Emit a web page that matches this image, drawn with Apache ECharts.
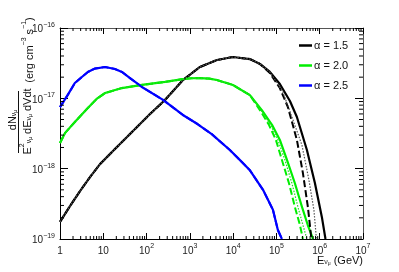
<!DOCTYPE html>
<html>
<head>
<meta charset="utf-8">
<script src="https://cdn.jsdelivr.net/npm/echarts@6/dist/echarts.min.js"></script>
<style>html,body{margin:0;padding:0;background:#fff}#c{width:399px;height:272px}</style>
</head>
<body>
<div id="c"></div>
<script>
// ---- data (E in GeV, flux in erg cm^-3 s^-1) ----
const seriesNames = ['α = 1.5', 'α = 2.0', 'α = 2.5'];
const colors = ['#000000', '#00ee00', '#0000ff'];

// alpha = 1.5 (black)
const a15E      = [1, 1.70, 2.90, 4.93, 8.39, 18.6, 41.4, 120, 266, 693, 1710, 4230, 9890, 24400, 41600, 70700, 120000, 205000, 297000, 506000, 774000, 1120000, 1360000];
const a15Solid  = [1.75e-19, 2.94e-19, 4.81e-19, 7.60e-19, 1.16e-18, 1.90e-18, 3.11e-18, 5.98e-18, 9.46e-18, 1.82e-17, 2.79e-17, 3.51e-17, 3.87e-17, 3.62e-17, 3.08e-17, 2.37e-17, 1.60e-17, 9.16e-18, 5.43e-18, 1.84e-18, 6.25e-19, 2.06e-19, 1.0e-19];
const a15DashE  = [1, 1.70, 2.90, 4.93, 8.39, 18.6, 41.4, 120, 266, 693, 1710, 4230, 9890, 24400, 41600, 70700, 120000, 184000, 297000, 409000, 533000, 643000];
const a15Dash   = [1.75e-19, 2.94e-19, 4.81e-19, 7.60e-19, 1.16e-18, 1.90e-18, 3.11e-18, 5.98e-18, 9.46e-18, 1.82e-17, 2.79e-17, 3.51e-17, 3.87e-17, 3.62e-17, 3.08e-17, 2.29e-17, 1.40e-17, 7.53e-18, 2.56e-18, 8.67e-19, 2.85e-19, 1.0e-19];
const a15DotE   = [1, 1.70, 2.90, 4.93, 8.39, 18.6, 41.4, 120, 266, 693, 1710, 4230, 9890, 24400, 41600, 70700, 141000, 228000, 388000, 563000, 735000, 839000];
const a15Dot    = [1.75e-19, 2.94e-19, 4.81e-19, 7.60e-19, 1.16e-18, 1.90e-18, 3.11e-18, 5.98e-18, 9.46e-18, 1.82e-17, 2.79e-17, 3.51e-17, 3.87e-17, 3.62e-17, 3.08e-17, 2.37e-17, 1.23e-17, 5.43e-18, 2.17e-18, 6.9e-19, 2.58e-19, 1.0e-19];

// alpha = 2.0 (green)
const a20E      = [1, 1.3, 2.2, 4.4, 7, 11, 27, 78, 266, 690, 1100, 1700, 2800, 4200, 9900, 24400, 46000, 79000, 120000, 175000, 267000, 390000, 530000, 700000];
const a20Solid  = [2.32e-18, 3.2e-18, 4.6e-18, 7.3e-18, 9.8e-18, 1.19e-17, 1.40e-17, 1.55e-17, 1.71e-17, 1.88e-17, 1.93e-17, 1.94e-17, 1.91e-17, 1.82e-17, 1.55e-17, 1.11e-17, 6.8e-18, 4.2e-18, 2.56e-18, 1.33e-18, 6.2e-19, 2.85e-19, 1.58e-19, 1.0e-19];
const a20DashE  = [1, 1.3, 2.2, 4.4, 7, 11, 27, 78, 266, 690, 1100, 1700, 2800, 4200, 9900, 24400, 41600, 67100, 97300, 134000, 195000, 267000, 349000, 409000];
const a20Dash   = [2.32e-18, 3.2e-18, 4.6e-18, 7.3e-18, 9.8e-18, 1.19e-17, 1.40e-17, 1.55e-17, 1.71e-17, 1.88e-17, 1.93e-17, 1.94e-17, 1.91e-17, 1.82e-17, 1.55e-17, 1.11e-17, 6.8e-18, 4.2e-18, 2.56e-18, 1.33e-18, 6.2e-19, 2.85e-19, 1.58e-19, 1.0e-19];
const a20DotE   = [1, 1.3, 2.2, 4.4, 7, 11, 27, 78, 266, 690, 1100, 1700, 2800, 4200, 9900, 24400, 44000, 73000, 108000, 157000, 228000, 314000, 409000, 506000];
const a20Dot    = [2.32e-18, 3.2e-18, 4.6e-18, 7.3e-18, 9.8e-18, 1.19e-17, 1.40e-17, 1.55e-17, 1.71e-17, 1.88e-17, 1.93e-17, 1.94e-17, 1.91e-17, 1.82e-17, 1.55e-17, 1.11e-17, 6.8e-18, 4.2e-18, 2.56e-18, 1.33e-18, 6.2e-19, 2.85e-19, 1.58e-19, 1.0e-19];

// alpha = 2.5 (blue)
const a25E      = [1, 1.5, 2.2, 3.2, 4.4, 6.4, 11, 18.6, 27, 41.4, 78, 240, 690, 1500, 3200, 8400, 16000, 24000, 49000, 83000, 108000, 134000];
const a25Solid  = [7.5e-18, 1.11e-17, 1.65e-17, 2.01e-17, 2.37e-17, 2.65e-17, 2.79e-17, 2.61e-17, 2.37e-17, 1.94e-17, 1.45e-17, 9.5e-18, 5.8e-18, 4.31e-18, 3.1e-18, 1.84e-18, 1.24e-18, 9.6e-19, 5.0e-19, 2.6e-19, 1.34e-19, 1.0e-19];
const a25Dash   = [7.5e-18, 1.11e-17, 1.65e-17, 2.01e-17, 2.37e-17, 2.65e-17, 2.79e-17, 2.61e-17, 2.37e-17, 1.94e-17, 1.45e-17, 9.5e-18, 5.8e-18, 4.31e-18, 3.1e-18, 1.84e-18, 1.24e-18, 9.6e-19, 5.0e-19, 2.6e-19, 1.34e-19, 1.0e-19];

// axis ticks
const xMajor = [1, 10, 100, 1e3, 1e4, 1e5, 1e6, 1e7];
const yMajor = [1e-19, 1e-18, 1e-17, 1e-16];

const pairs = (xs, ys) => xs.map((x, i) => [x, ys[i]]);
const xMinor = [], yMinor = [];
for (let i = 0; i < xMajor.length - 1; i++) for (let k = 2; k <= 9; k++) xMinor.push([xMajor[i] * k, 1e-19]);
for (let i = 0; i < yMajor.length - 1; i++) for (let k = 2; k <= 9; k++) yMinor.push([1, yMajor[i] * k]);

const FONT = 'Liberation Sans, Arial, sans-serif';
const numRich = {
  b: { fontSize: 10, fontFamily: FONT, color: '#222', lineHeight: 13, verticalAlign: 'bottom' },
  s: { fontSize: 7, fontFamily: FONT, color: '#222', lineHeight: 8, verticalAlign: 'top' }
};
const fmtX = v => { const n = Math.round(Math.log10(v)); if (n === 0) return '{b|1}'; if (n === 1) return '{b|10}'; return '{b|10}{s|' + n + '}'; };
const fmtY = v => { const n = Math.round(Math.log10(v)); return '{b|10}{s|−' + (-n) + '}'; };

const lineSeries = (name, data, color, width, type, z) => ({
  name, type: 'line', data, xAxisIndex: 0, yAxisIndex: 0, showSymbol: false, symbol: 'none',
  smooth: false, clip: true, z,
  lineStyle: { color, width, type, join: 'round', cap: 'butt' }, itemStyle: { color }
});

const series = [
  lineSeries('α = 1.5', pairs(a15E, a15Solid), colors[0], 2.2, 'solid', 3),
  lineSeries('a15dash', pairs(a15DashE, a15Dash), colors[0], 2, [7, 3], 4),
  lineSeries('a15dot', pairs(a15DotE, a15Dot), '#555', 1.2, [1.5, 1.5], 4),
  lineSeries('α = 2.0', pairs(a20E, a20Solid), colors[1], 2.2, 'solid', 3),
  lineSeries('a20dash', pairs(a20DashE, a20Dash), colors[1], 2, [7, 3], 4),
  lineSeries('a20dot', pairs(a20DotE, a20Dot), '#22dd22', 1.2, [1.5, 1.5], 4),
  lineSeries('α = 2.5', pairs(a25E, a25Solid), colors[2], 2.2, 'solid', 3),
  lineSeries('a25dash', pairs(a25E, a25Dash), colors[2], 2, [7, 3], 4),
  {
    type: 'custom', data: xMinor, xAxisIndex: 0, yAxisIndex: 0, silent: true, clip: false, z: 10,
    renderItem: (params, api) => {
      const v = api.value(0);
      const b = api.coord([v, 1e-19]), t = api.coord([v, 1e-16]);
      return { type: 'group', children: [
        { type: 'line', shape: { x1: b[0], y1: b[1], x2: b[0], y2: b[1] - 3 }, style: { stroke: '#000', lineWidth: 1 } },
        { type: 'line', shape: { x1: t[0], y1: t[1], x2: t[0], y2: t[1] + 3 }, style: { stroke: '#000', lineWidth: 1 } }
      ]};
    }
  },
  {
    type: 'custom', data: yMinor, xAxisIndex: 0, yAxisIndex: 0, silent: true, clip: false, z: 10,
    renderItem: (params, api) => {
      const v = api.value(1);
      const l = api.coord([1, v]), r = api.coord([1e7, v]);
      return { type: 'group', children: [
        { type: 'line', shape: { x1: l[0], y1: l[1], x2: l[0] + 4, y2: l[1] }, style: { stroke: '#000', lineWidth: 1 } },
        { type: 'line', shape: { x1: r[0], y1: r[1], x2: r[0] - 4, y2: r[1] }, style: { stroke: '#000', lineWidth: 1 } }
      ]};
    }
  }
];

const axisCommonX = {
  type: 'log', logBase: 10, min: 1, max: 1e7, interval: 1, splitLine: { show: false },
  axisLine: { show: true, lineStyle: { color: '#000', width: 1 } },
  axisTick: { show: true, inside: true, length: 6, lineStyle: { color: '#000' } }
};
const axisCommonY = {
  type: 'log', logBase: 10, min: 1e-19, max: 1e-16, interval: 1, splitLine: { show: false },
  axisLine: { show: true, lineStyle: { color: '#000', width: 1 } },
  axisTick: { show: true, inside: true, length: 8, lineStyle: { color: '#000' } }
};

const txt = { fontFamily: FONT, fill: '#111' };
const chart = echarts.init(document.getElementById('c'), null, { renderer: 'canvas' });
chart.setOption({
  animation: false,
  backgroundColor: '#fff',
  grid: { left: 60, right: 36, top: 28, bottom: 33, containLabel: false },
  xAxis: [
    Object.assign({}, axisCommonX, { position: 'bottom', axisLabel: { formatter: fmtX, rich: numRich, margin: 4, showMinLabel: true, showMaxLabel: true } }),
    Object.assign({}, axisCommonX, { position: 'top', axisLabel: { show: false }, axisLine: { show: true, lineStyle: { color: '#555', width: 1 } } })
  ],
  yAxis: [
    Object.assign({}, axisCommonY, { position: 'left', axisLabel: { formatter: fmtY, rich: numRich, margin: 5, showMinLabel: true, showMaxLabel: true } }),
    Object.assign({}, axisCommonY, { position: 'right', axisLabel: { show: false }, axisLine: { show: true, lineStyle: { color: '#555', width: 1 } } })
  ],
  legend: {
    data: seriesNames, orient: 'vertical', left: 294, top: 34, itemWidth: 13, itemHeight: 2.5, itemGap: 7,
    icon: 'rect', textStyle: { fontSize: 11, fontFamily: FONT, color: '#111', lineHeight: 13, padding: [0, 0, 0, -3] },
    selectedMode: false
  },
  graphic: [
    { type: 'text', x: 11, y: 120, rotation: Math.PI / 2, style: {
      text: '{m|dN}{s|ν}{ss|μ}', align: 'center', verticalAlign: 'middle',
      rich: { m: Object.assign({ fontSize: 11, lineHeight: 14, verticalAlign: 'bottom' }, txt),
              s: Object.assign({ fontSize: 7, lineHeight: 9, verticalAlign: 'bottom' }, txt),
              ss: Object.assign({ fontSize: 5, lineHeight: 6, verticalAlign: 'bottom' }, txt) } } },
    { type: 'line', shape: { x1: 18.5, y1: 91, x2: 18.5, y2: 153 }, style: { stroke: '#111', lineWidth: 1 } },
    { type: 'text', x: 26, y: 121.5, rotation: Math.PI / 2, style: {
      text: '{m|E}{sp|2}{s|ν}{ss|μ}{m| dE}{s|ν}{ss|μ}{m| dVdt}', align: 'center', verticalAlign: 'middle',
      rich: { m: Object.assign({ fontSize: 11, lineHeight: 14, verticalAlign: 'bottom' }, txt),
              s: Object.assign({ fontSize: 7, lineHeight: 9, verticalAlign: 'bottom' }, txt),
              ss: Object.assign({ fontSize: 5, lineHeight: 6, verticalAlign: 'bottom' }, txt),
              sp: Object.assign({ fontSize: 7, lineHeight: 8, verticalAlign: 'top' }, txt) } } },
    { type: 'text', x: 28, y: 50, rotation: Math.PI / 2, style: {
      text: '{m|(erg cm}{sp|−3}{m| s}{sp|−1}{m|)}', align: 'center', verticalAlign: 'middle',
      rich: { m: Object.assign({ fontSize: 11, lineHeight: 14, verticalAlign: 'bottom' }, txt),
              sp: Object.assign({ fontSize: 7, lineHeight: 8, verticalAlign: 'top' }, txt) } } },
    { type: 'text', x: 363, y: 259, style: {
      text: '{m|E}{s|ν}{ss|μ}{m| (GeV)}', align: 'right', verticalAlign: 'middle',
      rich: { m: Object.assign({ fontSize: 11, lineHeight: 14, verticalAlign: 'bottom' }, txt),
              s: Object.assign({ fontSize: 7, lineHeight: 9, verticalAlign: 'bottom' }, txt),
              ss: Object.assign({ fontSize: 5, lineHeight: 6, verticalAlign: 'bottom' }, txt) } } }
  ],
  series
});
</script>
</body>
</html>
